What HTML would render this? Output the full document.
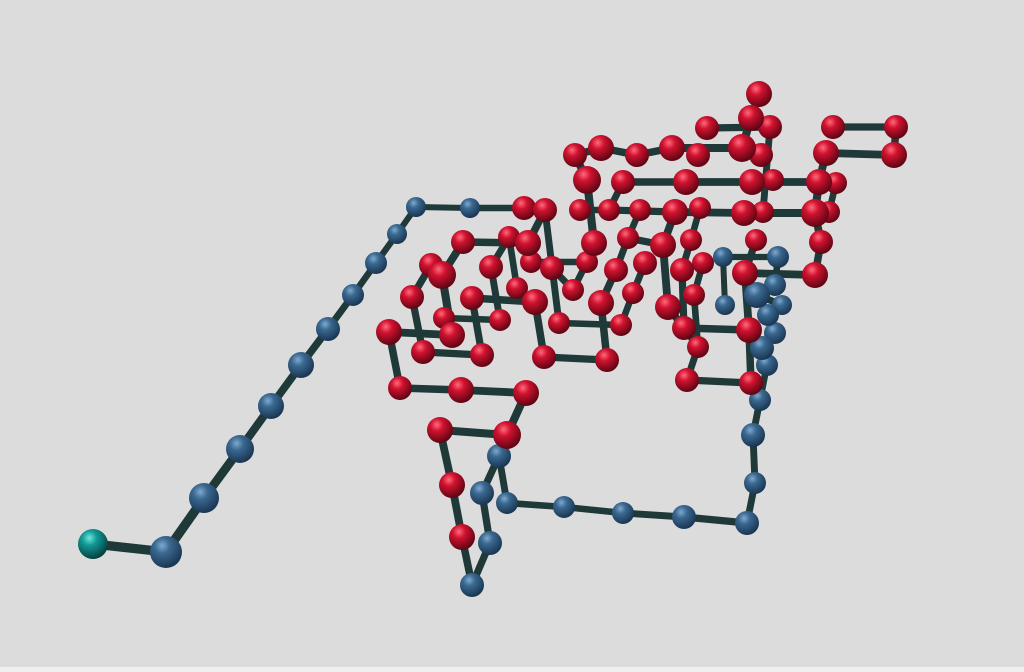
<!DOCTYPE html>
<html><head><meta charset="utf-8">
<style>
html,body{margin:0;padding:0;background:#dcdcdc;width:1024px;height:672px;overflow:hidden;font-family:"Liberation Sans",sans-serif}
#bar{position:absolute;left:0;top:667px;width:1024px;height:5px;background:#efefef}
</style></head>
<body>
<svg id="mol" width="1024" height="667" viewBox="0 0 1024 667" style="position:absolute;left:0;top:0">
<defs>
<radialGradient id="gr" cx="38%" cy="30%" r="70%"><stop offset="0" stop-color="#ff6a7c"/><stop offset="0.35" stop-color="#d0122f"/><stop offset="1" stop-color="#5e0513"/></radialGradient>
<radialGradient id="gb" cx="38%" cy="30%" r="70%"><stop offset="0" stop-color="#7fa9cf"/><stop offset="0.35" stop-color="#3a6890"/><stop offset="1" stop-color="#1a3652"/></radialGradient>
<radialGradient id="gt" cx="38%" cy="30%" r="70%"><stop offset="0" stop-color="#6fe6df"/><stop offset="0.35" stop-color="#129a96"/><stop offset="1" stop-color="#05403f"/></radialGradient>
</defs>
<g id="bonds"></g>
<g id="atoms"></g>
</svg>
<div id="bar"></div>
<script>
const atomX=[93,166,204,240,271,301,328,353,376,397,416,470,524,545,463,509,528,531,552,431,442,491,412,472,517,535,444,500,389,452,423,482,400,461,526,507,440,452,462,472,490,482,499,507,564,623,684,747,755,753,760,767,762,775,768,782,757,775,778,723,725,759,751,770,707,742,761,672,698,637,601,575,833,896,826,894,587,623,686,752,819,836,773,580,609,640,675,700,744,763,815,829,594,628,663,691,756,821,587,616,645,682,703,745,815,573,601,633,668,694,559,621,684,749,698,544,607,687,751];
const atomY=[544,552,498,449,406,365,329,295,263,234,207,208,208,210,242,237,243,262,268,265,275,267,297,298,288,302,318,320,332,335,352,355,388,390,393,435,430,485,537,585,543,493,456,503,507,513,517,523,483,435,400,365,348,333,315,305,295,285,257,257,305,94,118,127,128,148,155,148,155,155,148,155,127,127,153,155,180,182,182,182,182,183,180,210,210,210,212,208,213,212,213,212,243,238,245,240,240,242,262,270,263,270,263,273,275,290,303,293,307,295,323,325,328,330,347,357,360,380,383];
const atomR=[15,16,15,14,13,13,12,11,11,10,10,10,12,12,12,11,13,11,12,12,14,12,12,12,11,13,11,11,13,13,12,12,12,13,13,14,13,13,13,12,12,12,12,11,11,11,12,12,11,12,11,11,12,11,11,10,13,11,11,10,10,13,13,12,12,14,12,13,12,12,13,12,12,12,13,13,14,12,13,13,13,11,11,11,11,11,13,11,13,11,14,11,13,11,13,11,11,12,11,12,12,12,11,13,13,11,13,11,13,11,11,11,12,13,11,12,12,12,12];
const atomType="tbbbbbbbbbbbrrrrrrrrrrrrrrrrrrrrrrrrrrrbbbbbbbbbbbbbbbbbbbbbbrrrrrrrrrrrrrrrrrrrrrrrrrrrrrrrrrrrrrrrrrrrrrrrrrrrrrrrrrr".split("");
const bondA=[0,1,2,3,4,5,6,7,8,9,10,11,12,13,14,14,19,22,20,28,28,32,33,30,23,23,26,21,21,15,25,115,116,13,110,111,107,17,18,105,76,99,106,93,94,94,108,86,88,84,83,77,78,79,77,71,70,69,67,64,61,62,63,72,73,74,74,80,90,97,104,103,113,113,118,117,114,101,102,109,87,95,34,35,36,37,38,39,40,41,42,35,43,44,45,46,47,48,49,50,51,52,53,54,55,56,57,58,59,103,71,85,91];
const bondB=[1,2,3,4,5,6,7,8,9,10,11,12,13,16,16,20,22,30,29,29,32,33,34,31,31,25,27,27,15,24,115,116,106,110,111,107,100,98,105,98,92,93,99,94,108,86,112,88,90,86,84,78,79,80,84,70,69,67,65,63,62,65,89,73,75,75,80,90,97,104,103,96,112,118,117,114,112,112,109,114,95,101,35,36,37,38,39,40,41,42,43,42,44,45,46,47,48,49,50,51,52,53,54,55,56,57,58,59,60,113,76,93,81];
const NS="http://www.w3.org/2000/svg";
const gB=document.getElementById('bonds'), gA=document.getElementById('atoms');
const px=i=>atomX[i], py=i=>atomY[i];
for(let k=0;k<bondA.length;k++){
  const a=bondA[k],b=bondB[k];
  const l=document.createElementNS(NS,'line');
  l.setAttribute('x1',px(a));l.setAttribute('y1',py(a));l.setAttribute('x2',px(b));l.setAttribute('y2',py(b));
  l.setAttribute('stroke','#1f3838');l.setAttribute('stroke-width',Math.max(5,(atomR[a]+atomR[b])*0.3));
  l.setAttribute('stroke-linecap','round');
  
  
  gB.appendChild(l);
}
const order=atomX.map((_,i)=>i).sort((p,q)=>atomR[p]-atomR[q]);
const fill={r:'url(#gr)',b:'url(#gb)',t:'url(#gt)'};
order.forEach(i=>{
  const c=document.createElementNS(NS,'circle');
  c.setAttribute('cx',px(i));c.setAttribute('cy',py(i));c.setAttribute('r',atomR[i]);
  c.setAttribute('fill',fill[atomType[i]]);
  
  
  gA.appendChild(c);
});
</script>
</body></html>
